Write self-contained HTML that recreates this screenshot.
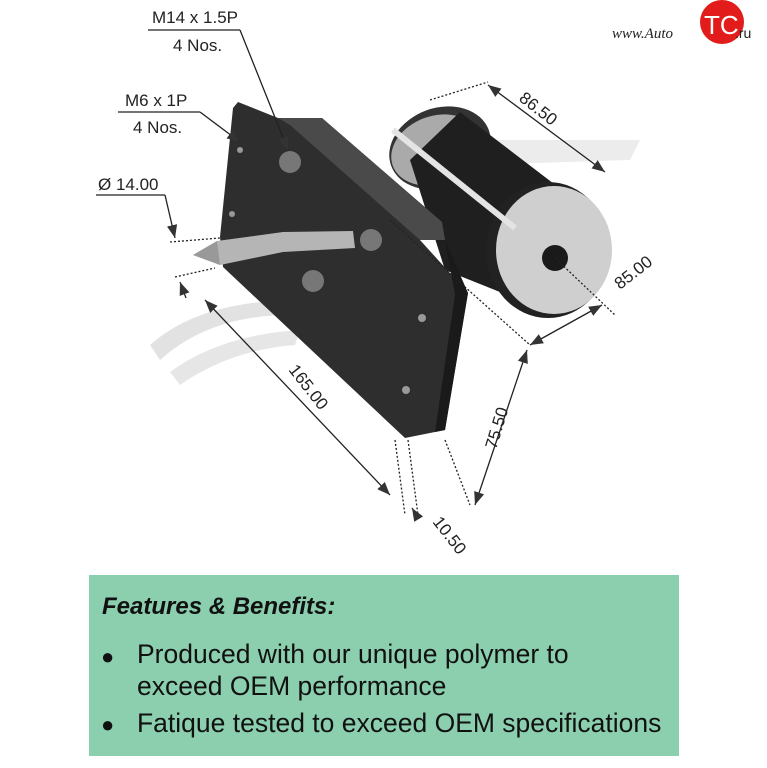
<!DOCTYPE html>
<html><head><style>
body{margin:0;background:#fff;width:767px;height:768px;overflow:hidden;font-family:"Liberation Sans",sans-serif}
svg{position:absolute;left:0;top:0}
.box{position:absolute;left:89px;top:575px;width:590px;height:181px;background:#8ccfaf}
.box div{position:absolute;color:#111;font-size:26.5px;white-space:nowrap}
</style></head><body>
<svg width="767" height="768" viewBox="0 0 767 768">
<defs><marker id="a" markerWidth="10" markerHeight="8" refX="10" refY="4" orient="auto-start-reverse"><path d="M0 0 L10 4 L0 8 Z" fill="#333"/></marker></defs>
<path d="M150 345 Q200 300 300 300 L290 315 Q210 315 160 360 Z" fill="#e2e2e2"/>
<path d="M170 372 Q220 335 300 330 L295 345 Q230 350 180 385 Z" fill="#e6e6e6"/>
<path d="M480 140 L640 140 L630 160 L470 165 Z" fill="#ececec"/>
<ellipse cx="440" cy="148" rx="52" ry="40" transform="rotate(-20 440 148)" fill="#333"/>
<ellipse cx="436" cy="150" rx="46" ry="34" transform="rotate(-20 436 150)" fill="#aaa"/>
<polygon points="410,160 460,112 575,200 520,300 445,270" fill="#1f1f1f"/>
<polygon points="238,102 278,118 322,118 442,222 445,240 420,240 468,293 445,430 405,438 223,267 220,237 233,108" fill="#2e2e2e"/>
<polygon points="278,118 322,118 442,222 445,240 420,240 290,125" fill="#4a4a4a"/>
<polygon points="445,240 468,293 445,430 435,432 455,295" fill="#1a1a1a"/>
<circle cx="290" cy="162" r="11" fill="#777"/><circle cx="371" cy="240" r="11" fill="#777"/>
<circle cx="313" cy="281" r="11" fill="#777"/><circle cx="240" cy="150" r="3" fill="#999"/>
<circle cx="422" cy="318" r="4" fill="#999"/><circle cx="406" cy="390" r="4" fill="#999"/>
<circle cx="232" cy="214" r="3" fill="#999"/>
<polygon points="193,255 217,241 283,232 353,231 355,248 283,252 220,265" fill="#b5b5b5"/>
<polygon points="193,255 217,241 220,265" fill="#999"/>
<ellipse cx="548" cy="250" rx="62" ry="68" fill="#222"/>
<ellipse cx="554" cy="250" rx="58" ry="64" fill="#cfcfcf"/>
<circle cx="555" cy="258" r="13" fill="#1a1a1a"/>
<line x1="393" y1="130" x2="515" y2="228" stroke="#e4e4e4" stroke-width="6"/>
<g stroke="#222" stroke-width="1.3" fill="none">
<line x1="148" y1="30" x2="240" y2="30"/><line x1="240" y1="30" x2="288" y2="150" marker-end="url(#a)"/>
<line x1="118" y1="112" x2="200" y2="112"/><line x1="200" y1="112" x2="240" y2="142" marker-end="url(#a)"/>
<line x1="96" y1="195" x2="165" y2="195"/><line x1="165" y1="195" x2="175" y2="238" marker-end="url(#a)"/>
<line x1="170" y1="242" x2="220" y2="238" stroke-dasharray="2,2"/>
<line x1="175" y1="277" x2="215" y2="268" stroke-dasharray="2,2"/>
<line x1="180" y1="282" x2="186" y2="298" marker-start="url(#a)"/>
<line x1="205" y1="300" x2="390" y2="495" marker-start="url(#a)" marker-end="url(#a)"/>
<line x1="395" y1="440" x2="405" y2="515" stroke-dasharray="2,2"/>
<line x1="408" y1="440" x2="418" y2="515" stroke-dasharray="2,2"/>
<line x1="418" y1="518" x2="412" y2="508" marker-end="url(#a)"/>
<line x1="430" y1="100" x2="488" y2="82" stroke-dasharray="2,2"/>
<line x1="488" y1="85" x2="605" y2="172" marker-start="url(#a)" marker-end="url(#a)"/>
<line x1="530" y1="345" x2="602" y2="305" marker-start="url(#a)" marker-end="url(#a)"/>
<line x1="527" y1="350" x2="475" y2="505" marker-start="url(#a)" marker-end="url(#a)"/>
<line x1="445" y1="440" x2="470" y2="505" stroke-dasharray="2,2"/>
<line x1="390" y1="220" x2="530" y2="345" stroke-dasharray="2,2"/>
<line x1="555" y1="258" x2="615" y2="315" stroke-dasharray="2,2"/>
</g>
<g font-size="17" fill="#222">
<text x="152" y="23">M14 x 1.5P</text><text x="173" y="51">4 Nos.</text>
<text x="125" y="106">M6 x 1P</text><text x="133" y="133">4 Nos.</text>
<text x="98" y="190">Ø 14.00</text>
<text transform="translate(288,370) rotate(52)">165.00</text>
<text transform="translate(432,522) rotate(52)">10.50</text>
<text transform="translate(496,450) rotate(-73)">75.50</text>
<text transform="translate(518,100) rotate(38)">86.50</text>
<text transform="translate(620,290) rotate(-38)">85.00</text>
</g>
<text x="612" y="38" font-size="15" font-style="italic" fill="#222" font-family="Liberation Serif">www.Auto</text>
<circle cx="722" cy="22" r="22" fill="#e21b1b"/>
<text x="704" y="34" font-size="26" fill="#fff">TC</text>
<text x="735" y="38" font-size="14" fill="#222">.ru</text>
</svg>
<div class="box">
<div style="left:13px;top:18px;font-style:italic;font-weight:bold;font-size:24px">Features &amp; Benefits:</div>
<div style="left:12px;top:69px;font-size:22px">●</div>
<div style="left:48px;top:64px">Produced with our unique polymer to</div>
<div style="left:48px;top:96px">exceed OEM performance</div>
<div style="left:12px;top:137px;font-size:22px">●</div>
<div style="left:48px;top:133px">Fatique tested to exceed OEM specifications</div>
</div>
</body></html>
